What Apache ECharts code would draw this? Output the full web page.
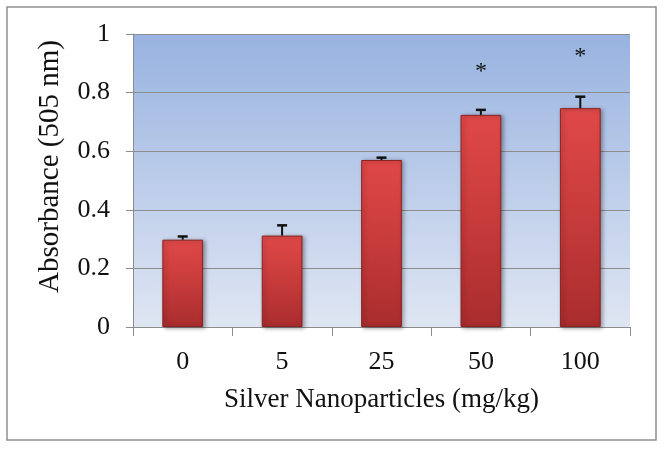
<!DOCTYPE html>
<html>
<head>
<meta charset="utf-8">
<script src="https://cdn.jsdelivr.net/npm/echarts@6/dist/echarts.min.js"></script>
<style>
html,body{margin:0;padding:0;background:#fff;}
#c{width:664px;height:450px;}
</style>
</head>
<body>
<div id="c"></div>
<script>
var categories = ['0', '5', '25', '50', '100'];
var absorbance = [0.298, 0.312, 0.570, 0.724, 0.747];
var errorUp = [0.011, 0.035, 0.008, 0.017, 0.039];
var significance = ['', '', '', '*', '*'];
var significanceY = [null, null, null, 0.89, 0.94];
var yTicks = [0, 0.2, 0.4, 0.6, 0.8, 1];

var chart = echarts.init(document.getElementById('c'), null, {renderer: 'canvas'});
var serif = '"Liberation Serif", "Times New Roman", serif';
var axisGray = '#8c8c8c';

var errData = absorbance.map(function (v, i) { return [i, v, v + errorUp[i]]; });
var starData = [];
significance.forEach(function (s, i) { if (s) starData.push([i, significanceY[i], s]); });

chart.setOption({
  backgroundColor: '#ffffff',
  animation: false,
  graphic: [{
    type: 'rect',
    shape: {x: 7, y: 7, width: 649, height: 433},
    style: {fill: 'none', stroke: '#8f8f8f', lineWidth: 1.5},
    silent: true
  }],
  grid: {
    left: 133, right: 34, top: 34, bottom: 123,
    show: true,
    borderWidth: 0,
    backgroundColor: new echarts.graphic.LinearGradient(0, 0, 0, 1, [
      {offset: 0, color: '#98b3e0'},
      {offset: 1, color: '#dfe6f3'}
    ])
  },
  xAxis: {
    type: 'category',
    data: categories,
    name: 'Silver Nanoparticles (mg/kg)',
    nameLocation: 'middle',
    nameGap: 59,
    nameTextStyle: {fontFamily: serif, fontSize: 27, color: '#111'},
    axisLine: {show: true, lineStyle: {color: axisGray, width: 1}},
    axisTick: {show: true, length: 9, lineStyle: {color: axisGray}},
    axisLabel: {fontFamily: serif, fontSize: 26, color: '#111', margin: 22}
  },
  yAxis: {
    type: 'value',
    min: 0, max: 1, interval: 0.2,
    name: 'Absorbance (505 nm)',
    nameLocation: 'middle',
    nameGap: 68,
    nameTextStyle: {fontFamily: serif, fontSize: 29, color: '#111', padding: [0, 0, 0, 28]},
    axisLine: {show: true, lineStyle: {color: axisGray, width: 1}},
    axisTick: {show: true, length: 7, lineStyle: {color: axisGray}},
    axisLabel: {
      fontFamily: serif, fontSize: 26, color: '#111', margin: 23,
      formatter: function (v) {
        for (var k = 0; k < yTicks.length; k++) {
          if (Math.abs(yTicks[k] - v) < 1e-9) return String(yTicks[k]);
        }
        return '';
      }
    },
    splitLine: {show: true, lineStyle: {color: axisGray, width: 1}}
  },
  series: [
    {
      type: 'bar',
      data: absorbance,
      barWidth: '41%',
      itemStyle: {
        color: new echarts.graphic.LinearGradient(0, 0, 0, 1, [
          {offset: 0, color: '#e04848'},
          {offset: 0.5, color: '#c73b3b'},
          {offset: 1, color: '#a92c2d'}
        ]),
        borderColor: '#8a2222',
        borderWidth: 1,
        shadowColor: 'rgba(0,0,0,0.35)',
        shadowBlur: 4,
        shadowOffsetX: 2,
        shadowOffsetY: 1
      },
      z: 2
    },
    {
      type: 'custom',
      data: errData,
      z: 3,
      renderItem: function (params, api) {
        var x = api.coord([api.value(0), api.value(1)]);
        var top = api.coord([api.value(0), api.value(2)]);
        var cx = x[0];
        var half = 5;
        return {
          type: 'group',
          children: [
            {type: 'line', shape: {x1: cx, y1: x[1], x2: cx, y2: top[1]}, style: {stroke: '#111', lineWidth: 2}},
            {type: 'line', shape: {x1: cx - half, y1: top[1], x2: cx + half, y2: top[1]}, style: {stroke: '#111', lineWidth: 2.5}}
          ]
        };
      }
    },
    {
      type: 'custom',
      data: starData,
      z: 4,
      renderItem: function (params, api) {
        var p = api.coord([api.value(0), api.value(1)]);
        return {
          type: 'text',
          x: p[0], y: p[1] + 5,
          style: {
            text: significance[api.value(0)],
            fontFamily: serif, fontSize: 24, fill: '#111',
            align: 'center', verticalAlign: 'middle'
          }
        };
      }
    }
  ]
});
</script>
</body>
</html>
